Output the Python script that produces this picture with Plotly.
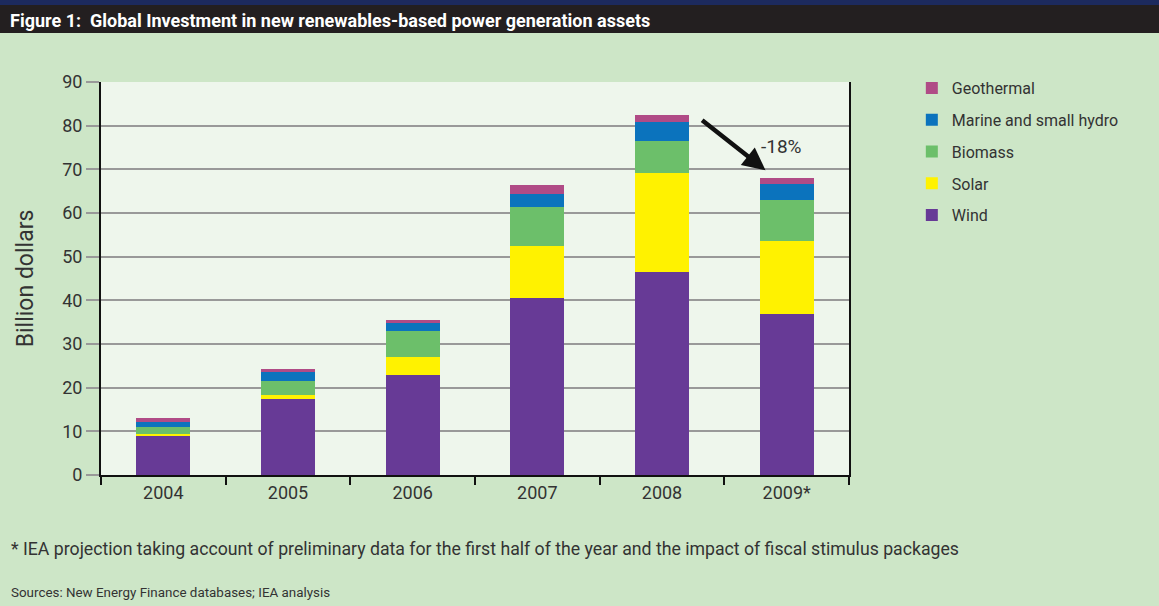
import plotly.graph_objects as go

years = ["2004", "2005", "2006", "2007", "2008", "2009*"]
wind = [9.0, 17.3, 22.8, 40.5, 46.6, 36.9]
solar = [0.4, 1.1, 4.2, 12.0, 22.6, 16.8]
biomass = [1.7, 3.2, 6.0, 8.9, 7.3, 9.3]
marine = [1.1, 2.1, 1.7, 2.9, 4.4, 3.6]
geothermal = [0.8, 0.5, 0.9, 2.0, 1.5, 1.4]

series = [
    ("Wind", wind, "#673a96"),
    ("Solar", solar, "#fff200"),
    ("Biomass", biomass, "#6cbf6a"),
    ("Marine and small hydro", marine, "#0b73bd"),
    ("Geothermal", geothermal, "#b04b86"),
]

FONT = "Roboto, sans-serif"

fig = go.Figure()
n = len(series)
for i, (name, vals, col) in enumerate(series):
    fig.add_trace(go.Bar(x=years, y=vals, name=name, legendgroup=name, legendrank=n - i,
                         marker=dict(color=col, line=dict(width=0))))

fig.update_layout(
    barmode="stack",
    bargap=0.565,
    width=1159, height=606,
    margin=dict(l=101, r=310, t=82, b=131),
    paper_bgcolor="#cde6c7",
    plot_bgcolor="#eef6ec",
    font=dict(family=FONT, color="#333333", size=17),
    showlegend=True,
    legend=dict(
        x=1.084, y=1.028, xanchor="left", yanchor="top",
        traceorder="grouped",
        font=dict(size=16, color="#333333"),
        tracegroupgap=8,
        bgcolor="rgba(0,0,0,0)",
    ),
    xaxis=dict(
        showline=True, linecolor="#111111", linewidth=2,
        ticks="outside", tickson="boundaries", ticklen=8, tickcolor="#111111", tickwidth=2,
        tickfont=dict(size=18, color="#333333"),
        showgrid=False,
    ),
    yaxis=dict(
        range=[0, 90], dtick=10,
        showline=True, linecolor="#111111", linewidth=2, mirror=True,
        ticks="outside", ticklen=13, tickcolor="#999999", tickwidth=2,
        showgrid=True, gridcolor="#999999", gridwidth=2,
        zeroline=False,
        tickfont=dict(size=18, color="#333333"),
        title=dict(text="Billion dollars", font=dict(size=23, color="#333333"), standoff=22),
    ),
    shapes=[
        dict(type="rect", xref="paper", yref="paper", x0=-0.2, x1=1.5, y0=1.0 + 49/393, y1=1.0 + 82/393,
             fillcolor="#231f20", line=dict(width=0), layer="below"),
        dict(type="rect", xref="paper", yref="paper", x0=-0.2, x1=1.5, y0=1.0 + 77/393, y1=1.0 + 82/393,
             fillcolor="#1c2a5e", line=dict(width=0), layer="below"),
    ],
    annotations=[
        dict(text="<b>Figure 1:  Global Investment in new renewables-based power generation assets</b>",
             xref="paper", yref="paper", x=-93/748, y=1.0 + 62/393, xanchor="left", yanchor="middle",
             showarrow=False, font=dict(size=18, color="#ffffff", family=FONT)),
        dict(x=4.83, y=69.8, xref="x", yref="y", ax=4.31, ay=81.5, axref="x", ayref="y",
             showarrow=True, arrowhead=2, arrowsize=1.0, arrowwidth=4.5, arrowcolor="#111111", text=""),
        dict(text="-18%", x=4.96, y=75.3, xref="x", yref="y", showarrow=False,
             font=dict(size=19, color="#333333")),
        dict(text="* IEA projection taking account of preliminary data for the first half of the year and the impact of fiscal stimulus packages",
             xref="paper", yref="paper", x=-92/748, y=-74/393, xanchor="left", yanchor="middle",
             showarrow=False, font=dict(size=17.7, color="#333333")),
        dict(text="Sources: New Energy Finance databases; IEA analysis",
             xref="paper", yref="paper", x=-92/748, y=-117/393, xanchor="left", yanchor="middle",
             showarrow=False, font=dict(size=13.4, color="#333333")),
    ],
)

fig.write_html("out.html", config={"displayModeBar": False},
               post_script="document.body.style.margin='0';document.body.style.background='#cde6c7';")
